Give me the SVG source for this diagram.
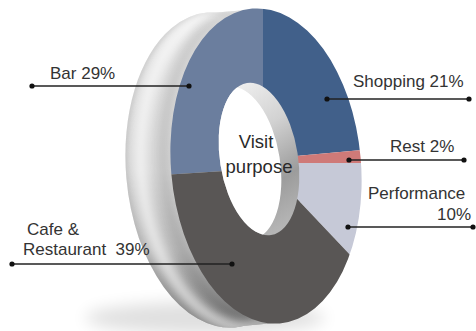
<svg xmlns="http://www.w3.org/2000/svg" width="476" height="331" viewBox="0 0 476 331">
  <style>
    .lbl { font-family: "Liberation Sans", Arial, sans-serif; font-size: 17px; fill: #333333; }
    .ctr { font-family: "Liberation Sans", Arial, sans-serif; font-size: 18.5px; fill: #2a2a2a; text-anchor: middle; }
    .lead { stroke: #222222; stroke-width: 1.6; fill: none; }
    .dot { fill: #111111; }
  </style>
  <defs>
    <linearGradient id="sideV" gradientUnits="userSpaceOnUse" x1="0" y1="10" x2="0" y2="330">
      <stop offset="0" stop-color="#e6e6e6"/>
      <stop offset="0.5" stop-color="#d8d8d8"/>
      <stop offset="0.75" stop-color="#bcbcbc"/>
      <stop offset="0.9" stop-color="#909090"/>
      <stop offset="1" stop-color="#707070"/>
    </linearGradient>
    <linearGradient id="wall" gradientUnits="userSpaceOnUse" x1="235" y1="85" x2="295" y2="225">
      <stop offset="0" stop-color="#f0f0f0"/>
      <stop offset="0.35" stop-color="#d2d2d2"/>
      <stop offset="0.7" stop-color="#9c9c9c"/>
      <stop offset="1" stop-color="#b8b8b8"/>
    </linearGradient>
    <filter id="blur8" x="-50%" y="-50%" width="200%" height="200%"><feGaussianBlur stdDeviation="8"/></filter>
    <filter id="blur4" x="-20%" y="-20%" width="140%" height="140%"><feGaussianBlur stdDeviation="4"/></filter>
    <filter id="blur2" x="-20%" y="-20%" width="140%" height="140%"><feGaussianBlur stdDeviation="2"/></filter>
    <clipPath id="frontClip">
      <ellipse cx="266" cy="166" rx="95" ry="158" transform="rotate(-5 266 166)"/>
    </clipPath>
    <clipPath id="sideClip">
      <ellipse cx="221" cy="170" rx="95" ry="158" transform="rotate(-5 221 170)"/>
      <polygon points="257,9 212,13 230,327 275,323"/>
    </clipPath>
    <clipPath id="holeClip">
      <ellipse cx="259" cy="159" rx="39" ry="77" transform="rotate(-9 259 159)"/>
    </clipPath>
  </defs>

  <!-- ground shadow -->
  <ellipse cx="205" cy="318" rx="120" ry="16" fill="#000" opacity="0.12" filter="url(#blur8)"/>

  <g id="donut">
    <g id="side">
      <g clip-path="url(#sideClip)">
        <rect x="100" y="0" width="200" height="331" fill="url(#sideV)"/>
        <ellipse cx="221" cy="170" rx="95" ry="158" transform="rotate(-5 221 170)" fill="none" stroke="#9a9a9a" stroke-width="4" opacity="0.35" filter="url(#blur2)"/>
        <ellipse cx="236" cy="169" rx="95" ry="158" transform="rotate(-5 236 169)" fill="none" stroke="#ffffff" stroke-width="12" opacity="0.6" filter="url(#blur4)"/>
        <ellipse cx="259" cy="167" rx="95" ry="158" transform="rotate(-5 259 167)" fill="none" stroke="#000000" stroke-width="12" opacity="0.1" filter="url(#blur4)"/>
      </g>
    </g>

    <g id="slices" clip-path="url(#frontClip)">
      <polygon id="slice-bar" fill="#6b7e9e" points="240,170 -15,186 -50,-100 263,-100 263,120 262,163"/>
      <polygon id="slice-shopping" fill="#41608a" points="263,120 263,-100 600,-100 529,135 285,157 262,163"/>
      <polygon id="slice-rest" fill="#cf7a78" points="285,157 529,135 560,163 285,163"/>
      <polygon id="slice-performance" fill="#c6c9d7" points="285,163 560,163 600,400 514,428 282,183"/>
      <polygon id="slice-cafe" fill="#595655" points="282,183 514,428 400,500 -50,500 -15,186 240,170 262,163"/>
    </g>

    <g id="hole">
      <ellipse cx="259" cy="159" rx="39" ry="77" transform="rotate(-9 259 159)" fill="url(#wall)"/>
      <g clip-path="url(#holeClip)">
        <ellipse cx="241" cy="163" rx="39" ry="77" transform="rotate(-9 241 163)" fill="#ffffff"/>
      </g>
    </g>
  </g>

  <g id="center-label">
    <text class="ctr" x="256" y="148">Visit</text>
    <text class="ctr" x="259" y="173">purpose</text>
  </g>

  <g id="connectors">
    <line class="lead" x1="32" y1="86" x2="189" y2="86"/>
    <circle class="dot" cx="32" cy="86" r="2.6"/><circle class="dot" cx="189" cy="86" r="2.6"/>
    <line class="lead" x1="327" y1="99" x2="469" y2="99"/>
    <circle class="dot" cx="327" cy="99" r="2.6"/><circle class="dot" cx="469" cy="99" r="2.6"/>
    <line class="lead" x1="349" y1="160" x2="464" y2="160"/>
    <circle class="dot" cx="349" cy="160" r="2.6"/><circle class="dot" cx="464" cy="160" r="2.6"/>
    <line class="lead" x1="348" y1="227" x2="473" y2="227"/>
    <circle class="dot" cx="348" cy="227" r="2.6"/><circle class="dot" cx="473" cy="227" r="2.6"/>
    <line class="lead" x1="12" y1="264" x2="232" y2="264"/>
    <circle class="dot" cx="12" cy="264" r="2.6"/><circle class="dot" cx="232" cy="264" r="2.6"/>
  </g>

  <g id="labels">
    <text id="label-bar" class="lbl" x="50" y="79">Bar 29%</text>
    <text id="label-shopping" class="lbl" x="353" y="87">Shopping 21%</text>
    <text id="label-rest" class="lbl" x="390" y="152">Rest 2%</text>
    <g id="label-performance">
      <text class="lbl" x="368" y="199">Performance</text>
      <text class="lbl" x="471" y="220" text-anchor="end">10%</text>
    </g>
    <g id="label-cafe">
      <text class="lbl" x="27" y="235">Cafe &amp;</text>
      <text class="lbl" x="23" y="255" style="white-space:pre">Restaurant  39%</text>
    </g>
  </g>
</svg>
